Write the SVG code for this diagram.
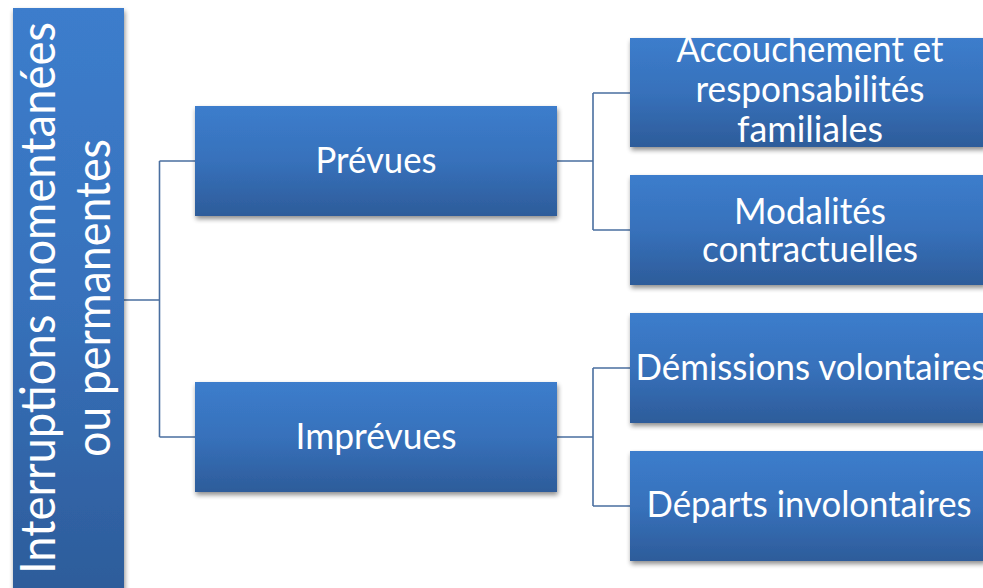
<svg xmlns="http://www.w3.org/2000/svg" width="983" height="588" viewBox="0 0 983 588">
  <defs>
    <linearGradient id="g" x1="0" y1="0" x2="0" y2="1">
      <stop offset="0" stop-color="#3C7DCC"/>
      <stop offset="0.5" stop-color="#3771BB"/>
      <stop offset="1" stop-color="#2D5C9A"/>
    </linearGradient>
    <filter id="sh" x="-10%" y="-10%" width="120%" height="130%">
      <feGaussianBlur in="SourceAlpha" stdDeviation="2.5"/>
      <feOffset dx="1" dy="3" result="b"/>
      <feComponentTransfer><feFuncA type="linear" slope="0.45"/></feComponentTransfer>
      <feMerge><feMergeNode/><feMergeNode in="SourceGraphic"/></feMerge>
    </filter>
    <style>
      .box { fill: url(#g); filter: url(#sh); }
      .t { font-family: Lato, "Open Sans", "Liberation Sans", sans-serif; fill: #FFFFFF; text-anchor: middle; font-size: 37.5px; }
      .rt { font-size: 47.5px; }
      .c { fill: none; stroke: #4A6FA0; stroke-width: 1.6; }
    </style>
  </defs>
  <rect width="983" height="588" fill="#FFFFFF"/>

  <g id="connectors">
    <path class="c" d="M124,300 H159.5 M159.5,161 V437 M159.5,161 H195 M159.5,437 H195"/>
    <path class="c" d="M557,161 H593 M593,93 V230 M593,93 H630 M593,230 H630"/>
    <path class="c" d="M557,437 H593 M593,368 V506 M593,368 H630 M593,506 H630"/>
  </g>

  <g id="root">
    <rect class="box" x="13" y="8" width="111" height="585"/>
    <text class="t rt" transform="translate(55,298) rotate(-90)" textLength="552" lengthAdjust="spacingAndGlyphs">Interruptions momentanées</text>
    <text class="t rt" transform="translate(110,298) rotate(-90)" textLength="318" lengthAdjust="spacingAndGlyphs">ou permanentes</text>
  </g>

  <g id="prevues">
    <rect class="box" x="195" y="106" width="362" height="110"/>
    <text class="t" x="376" y="173" textLength="121" lengthAdjust="spacingAndGlyphs">Prévues</text>
  </g>

  <g id="imprevues">
    <rect class="box" x="195" y="382" width="362" height="110"/>
    <text class="t" x="376" y="449" textLength="161" lengthAdjust="spacingAndGlyphs">Imprévues</text>
  </g>

  <g id="accouchement">
    <rect class="box" x="630" y="38" width="355" height="109"/>
    <text class="t" x="810" y="62" textLength="267" lengthAdjust="spacingAndGlyphs">Accouchement et</text>
    <text class="t" x="810" y="102" textLength="229" lengthAdjust="spacingAndGlyphs">responsabilités</text>
    <text class="t" x="810" y="142" textLength="146" lengthAdjust="spacingAndGlyphs">familiales</text>
  </g>

  <g id="modalites">
    <rect class="box" x="630" y="175" width="355" height="110"/>
    <text class="t" x="810" y="224" textLength="152" lengthAdjust="spacingAndGlyphs">Modalités</text>
    <text class="t" x="810" y="262" textLength="216" lengthAdjust="spacingAndGlyphs">contractuelles</text>
  </g>

  <g id="demissions">
    <rect class="box" x="630" y="313" width="355" height="110"/>
    <text class="t" x="811" y="380" textLength="351" lengthAdjust="spacingAndGlyphs">Démissions volontaires</text>
  </g>

  <g id="departs">
    <rect class="box" x="630" y="451" width="355" height="110"/>
    <text class="t" x="809" y="517" textLength="325" lengthAdjust="spacingAndGlyphs">Départs involontaires</text>
  </g>
</svg>
